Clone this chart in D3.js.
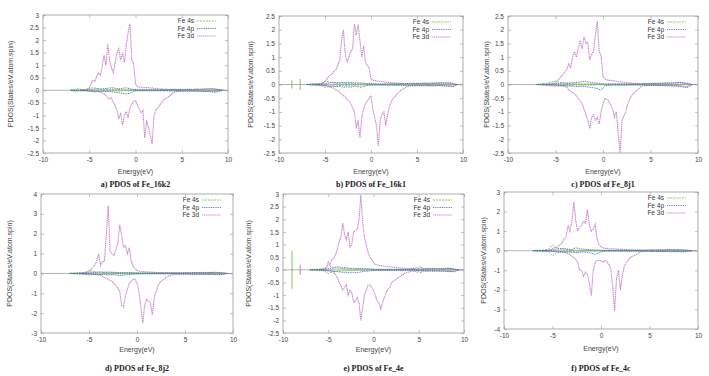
<!DOCTYPE html>
<html>
<head>
<meta charset="UTF-8">
<script src="https://cdn.jsdelivr.net/npm/d3@7"></script>
<style>
    body{margin:0;background:#fff;}
    svg{display:block;}
    .tick text{font-family:"Liberation Sans",Arial,sans-serif;font-size:6.5px;fill:#444;}
    .tick line{stroke:#999;stroke-width:0.6;}
    .frame{fill:none;stroke:#9a9a9a;stroke-width:0.8;}
    .lab{font-family:"Liberation Sans",Arial,sans-serif;font-size:7px;fill:#444;}
    .leg{font-family:"Liberation Sans",Arial,sans-serif;font-size:6.5px;fill:#333;}
    .ttl{font-family:"Liberation Serif","Times New Roman",serif;font-size:8px;font-weight:bold;fill:#222;}
    .curve{fill:none;}
</style>
</head>
<body>
<svg id="chart" width="709" height="376"></svg>
<script>
// energy grids (eV): 3d sampled from -6.0 by 0.2, 4s/4p from -7.0 by 0.4
var e3d = d3.range(80).map(function (i) { return +(-6 + i * 0.2).toFixed(1); });
var e4sp = d3.range(42).map(function (i) { return +(-7 + i * 0.4).toFixed(1); });
var xTicks = [-10, -5, 0, 5, 10];
var names = ["Fe 4s", "Fe 4p", "Fe 3d"];

// ---- a) Fe_16k2
var a_3d_up = [.01,.02,.01,.03,.05,.1,.25,.4,.35,.55, .7,.6,.95,1.4,1.0,1.85,1.2,.9,.7,1.1, 1.5,1.65,1.2,1.5,1.1,1.8,2.3,2.65,1.2,1.05, .25,.15,.12,.14,.1,.12,.1,.11,.08,.1, .07,.08,.06,.05,.06,.04,.05,.04,.03,.04, .03,.04,.03,.03,.04,.03,.04,.03,.04,.03, .04,.03,.04,.05,.03,.04,.05,.04,.05,.06, .06,.05,.07,.05,.04,.02,.01,0,0,0];
var a_3d_dn = [-.01,-.01,-.02,-.01,-.02,-.03,-.05,-.04,-.06,-.05, -.06,-.08,-.1,-.15,-.2,-.3,-.35,-.3,-.5,-.6, -.8,-1.15,-.9,-1.4,-1.0,-.85,-1.1,-.7,-.55,-.45, -.4,-.6,-.75,-.9,-.8,-1.9,-1.2,-1.5,-1.8,-2.15, -1.0,-.8,-.7,-.6,-.5,-.4,-.35,-.3,-.25,-.2, -.12,-.08,-.05,-.04,-.05,-.03,-.04,-.03,-.04,-.03, -.03,-.04,-.03,-.04,-.03,-.04,-.03,-.04,-.03,-.04, -.04,-.05,-.04,-.06,-.04,-.02,-.01,0,0,0];
var a_4s_up = [0,.03,.06,.02,.03,.07,.1,.08,.05,.04, .03,.03,.02,.03,.02,.02,.02,.02,.01,.01, .01,.01,.01,.01,.01,.01,.01,.01,.01,.01, .01,.01,.01,.01,.01,.01,.01,.01,.01,.01, .01,0];
var a_4s_dn = [0,-.04,-.03,-.02,-.02,-.04,-.06,-.05,-.04,-.03, -.03,-.03,-.02,-.03,-.02,-.02,-.02,-.01,-.01,-.01, -.01,-.01,-.01,-.01,-.01,-.01,-.01,-.01,-.01,-.01, -.01,-.01,-.01,-.01,-.01,-.01,-.01,-.01,-.01,-.01, -.01,0];
var a_4p_up = [0,0,.01,.01,.01,.02,.04,.05,.04,.06, .08,.1,.08,.06,.08,.1,.06,.03,.02,.02, .02,.02,.02,.02,.02,.02,.02,.02,.03,.03, .03,.03,.04,.03,.04,.04,.05,.05,.06,.04, .03,0];
var a_4p_dn = [0,0,-.01,-.01,-.01,-.02,-.03,-.03,-.04,-.04, -.05,-.06,-.08,-.1,-.12,-.15,-.12,-.04,-.02,-.02, -.02,-.02,-.02,-.02,-.02,-.02,-.02,-.03,-.03,-.03, -.03,-.03,-.04,-.03,-.04,-.04,-.05,-.05,-.06,-.08, -.05,0];

// ---- b) Fe_16k1
var b_3d_up = [.01,.01,.02,.02,.05,.12,.2,.3,.35,.4, .5,.55,.7,.9,1.6,2.0,1.1,.8,1.0,1.2, 1.3,2.2,1.8,2.2,1.6,1.0,1.4,.8,.7,.6, .2,.15,.15,.13,.12,.12,.1,.1,.08,.08, .07,.06,.06,.05,.05,.04,.04,.04,.03,.04, .03,.04,.03,.04,.03,.04,.03,.04,.03,.04, .04,.05,.04,.05,.04,.05,.04,.05,.06,.05, .06,.05,.04,.05,.03,.01,0,0,0,0];
var b_3d_dn = [-.01,-.01,-.02,-.02,-.03,-.04,-.05,-.08,-.1,-.12, -.15,-.2,-.22,-.3,-.35,-.4,-.45,-.55,-.6,-.7, -.85,-1.0,-1.6,-1.3,-1.95,-1.2,-.9,-.7,-.6,-.5, -.4,-.9,-1.2,-1.5,-2.25,-1.3,-1.1,-1.0,-1.5,-1.1, -.8,-.65,-.5,-.45,-.35,-.3,-.22,-.18,-.15,-.1, -.06,-.05,-.04,-.05,-.04,-.03,-.04,-.03,-.04,-.03, -.03,-.04,-.03,-.04,-.03,-.04,-.03,-.04,-.03,-.04, -.04,-.05,-.06,-.05,-.07,-.04,-.02,0,0,0];
var b_4s_up = [0,.02,.03,.03,.04,.12,.1,.06,.05,.04, .04,.03,.03,.03,.02,.02,.02,.02,.01,.01, .01,.01,.01,.01,.01,.01,.01,.01,.01,.01, .01,.01,.01,.01,.01,.01,.01,.01,.01,.01, .01,0];
var b_4s_dn = [0,-.02,-.03,-.03,-.04,-.1,-.08,-.06,-.05,-.04, -.03,-.03,-.03,-.02,-.02,-.02,-.02,-.01,-.01,-.01, -.01,-.01,-.01,-.01,-.01,-.01,-.01,-.01,-.01,-.01, -.01,-.01,-.01,-.01,-.01,-.01,-.01,-.01,-.01,-.01, -.01,0];
var b_4p_up = [0,0,.01,.01,.02,.03,.05,.08,.06,.07, .08,.06,.07,.06,.05,.06,.04,.03,.03,.02, .02,.02,.02,.03,.02,.03,.03,.03,.04,.04, .04,.04,.05,.04,.05,.05,.06,.05,.06,.06, .03,0];
var b_4p_dn = [0,0,-.01,-.01,-.02,-.03,-.05,-.06,-.08,-.06, -.1,-.08,-.1,-.06,-.08,-.1,-.05,-.03,-.02,-.02, -.02,-.02,-.03,-.02,-.03,-.03,-.03,-.04,-.04,-.04, -.04,-.04,-.05,-.04,-.05,-.05,-.04,-.05,-.06,-.06, -.08,0];
var b_core = [[-8.6, .15, -.15, 0], [-7.7, .2, -.2, 0]];

// ---- c) Fe_8j1
var c_3d_up = [.01,.01,.02,.03,.05,.06,.15,.2,.3,.35, .5,.55,.75,.6,1.0,1.2,1.0,1.35,1.6,1.3, 1.75,1.5,1.55,.9,1.1,1.2,1.8,2.3,1.2,1.05, .3,.2,.17,.15,.15,.14,.13,.12,.1,.1, .09,.08,.07,.06,.05,.05,.04,.04,.03,.03, .03,.03,.04,.03,.03,.04,.03,.04,.03,.04, .04,.03,.04,.05,.04,.05,.04,.05,.06,.05, .08,.06,.05,.04,.03,.01,0,0,0,0];
var c_3d_dn = [-.01,-.01,-.01,-.02,-.02,-.03,-.03,-.04,-.05,-.05, -.07,-.1,-.2,-.25,-.3,-.35,-.4,-.5,-.6,-.7, -.9,-1.1,-1.3,-1.6,-1.2,-1.1,-1.3,-1.2,-1.45,-1.0, -.7,-.5,-.55,-.6,-.75,-.9,-1.2,-1.0,-1.8,-2.5, -1.3,-1.15,-1.0,-.7,-.55,-.4,-.35,-.25,-.2,-.15, -.08,-.05,-.04,-.04,-.03,-.04,-.03,-.04,-.03,-.04, -.03,-.04,-.03,-.04,-.03,-.04,-.03,-.04,-.03,-.04, -.04,-.05,-.06,-.08,-.1,-.05,-.01,0,0,0];
var c_4s_up = [0,.02,.04,.05,.1,.12,.08,.06,.04,.03, .03,.02,.02,.02,.02,.02,.02,.01,.01,.01, .01,.01,.01,.01,.01,.01,.01,.01,.01,.01, .01,.01,.01,.01,.01,.01,.01,.01,.01,.01, .01,0];
var c_4s_dn = [0,-.02,-.03,-.04,-.05,-.06,-.05,-.04,-.03,-.03, -.02,-.02,-.02,-.02,-.02,-.02,-.01,-.01,-.01,-.01, -.01,-.01,-.01,-.01,-.01,-.01,-.01,-.01,-.01,-.01, -.01,-.01,-.01,-.01,-.01,-.01,-.01,-.01,-.01,-.01, -.01,0];
var c_4p_up = [0,0,.01,.01,.02,.03,.04,.05,.05,.06, .07,.08,.1,.12,.08,.06,.05,.03,.02,.02, .02,.02,.02,.02,.02,.02,.02,.02,.02,.03, .03,.04,.04,.05,.05,.06,.06,.07,.08,.06, .04,0];
var c_4p_dn = [0,0,-.01,-.01,-.02,-.02,-.03,-.04,-.05,-.06, -.07,-.08,-.06,-.08,-.1,-.12,-.15,-.2,-.05,-.03, -.02,-.02,-.02,-.02,-.02,-.02,-.02,-.02,-.02,-.03, -.03,-.03,-.04,-.04,-.05,-.05,-.06,-.06,-.08,-.1, -.1,0];

// ---- d) Fe_8j2
var d_3d_up = [.01,.01,.02,.03,.06,.1,.2,.3,.45,.6, 1.0,.4,.6,.6,1.9,3.4,1.1,1.0,.9,1.2, 1.5,2.45,1.9,1.3,1.4,1.0,1.3,.6,.35,.25, .15,.12,.1,.1,.08,.08,.07,.07,.06,.06, .05,.05,.04,.04,.04,.03,.03,.03,.03,.03, .03,.03,.03,.03,.03,.03,.03,.03,.03,.03, .03,.04,.03,.04,.03,.04,.03,.04,.05,.04, .05,.04,.05,.04,.03,.01,0,0,0,0];
var d_3d_dn = [-.01,-.01,-.01,-.02,-.02,-.03,-.03,-.04,-.05,-.06, -.08,-.1,-.15,-.2,-.25,-.3,-.35,-.4,-.5,-.6, -.75,-.9,-1.6,-1.7,-1.1,-.8,-.5,-.4,-.3,-.3, -.5,-.9,-1.7,-2.5,-1.6,-1.3,-1.4,-1.5,-2.1,-1.2, -.9,-.6,-.45,-.35,-.3,-.22,-.15,-.12,-.08,-.06, -.05,-.04,-.04,-.03,-.04,-.03,-.04,-.03,-.04,-.03, -.03,-.04,-.03,-.04,-.03,-.04,-.03,-.04,-.03,-.04, -.04,-.05,-.04,-.05,-.06,-.03,-.01,0,0,0];
var d_4s_up = [0,.02,.03,.04,.06,.15,.1,.06,.05,.04, .03,.03,.03,.02,.02,.02,.02,.02,.01,.01, .01,.01,.01,.01,.01,.01,.01,.01,.01,.01, .01,.01,.01,.01,.01,.01,.01,.01,.01,.01, .01,0];
var d_4s_dn = [0,-.02,-.03,-.03,-.05,-.08,-.06,-.05,-.04,-.03, -.03,-.03,-.02,-.02,-.02,-.02,-.02,-.01,-.01,-.01, -.01,-.01,-.01,-.01,-.01,-.01,-.01,-.01,-.01,-.01, -.01,-.01,-.01,-.01,-.01,-.01,-.01,-.01,-.01,-.01, -.01,0];
var d_4p_up = [0,0,.01,.01,.02,.03,.05,.06,.08,.06, .07,.06,.05,.04,.04,.05,.04,.03,.02,.02, .02,.02,.02,.02,.02,.02,.02,.02,.02,.02, .03,.03,.04,.04,.04,.05,.05,.05,.06,.04, .03,0];
var d_4p_dn = [0,0,-.01,-.01,-.02,-.02,-.03,-.05,-.06,-.05, -.08,-.06,-.08,-.1,-.08,-.06,-.05,-.03,-.02,-.02, -.02,-.02,-.02,-.02,-.02,-.02,-.02,-.02,-.02,-.02, -.03,-.03,-.04,-.04,-.04,-.05,-.05,-.05,-.06,-.06, -.04,0];

// ---- e) Fe_4e
var e_3d_up = [.01,.02,.02,.03,.06,.3,.2,.4,.45,.6, .8,1.1,1.3,1.85,1.4,1.2,1.5,.9,1.0,1.5, 1.55,1.6,2.0,2.95,1.9,1.3,1.0,.7,.5,.4, .3,.2,.2,.18,.16,.15,.14,.13,.12,.12, .1,.1,.09,.08,.08,.07,.07,.06,.06,.05, .06,.05,.06,.05,.1,.06,.12,.05,.06,.05, .05,.06,.05,.05,.04,.05,.04,.05,.05,.04, .05,.06,.05,.04,.03,.01,0,0,0,0];
var e_3d_dn = [-.01,-.01,-.02,-.02,-.03,-.04,-.05,-.07,-.1,-.2, -.3,-.5,-.6,-.8,-.7,-.6,-1.0,-.8,-.9,-1.3, -1.2,-1.1,-1.3,-2.0,-1.5,-1.0,-.8,-.6,-.6,-.7, -.8,-1.0,-1.25,-1.3,-1.55,-1.3,-1.1,-.9,-.75,-.7, -.5,-.45,-.4,-.35,-.3,-.25,-.2,-.15,-.12,-.1, -.08,-.05,-.06,-.05,-.1,-.05,-.12,-.05,-.06,-.05, -.05,-.04,-.05,-.04,-.05,-.04,-.05,-.04,-.05,-.04, -.05,-.06,-.05,-.07,-.05,-.02,-.01,0,0,0];
var e_4s_up = [0,.02,.03,.03,.05,.2,.1,.08,.06,.05, .04,.03,.03,.03,.02,.02,.02,.02,.01,.01, .01,.01,.01,.01,.01,.01,.01,.01,.01,.01, .01,.01,.01,.01,.01,.01,.01,.01,.01,.01, .01,0];
var e_4s_dn = [0,-.02,-.03,-.03,-.05,-.15,-.08,-.06,-.05,-.04, -.03,-.03,-.03,-.02,-.02,-.02,-.02,-.01,-.01,-.01, -.01,-.01,-.01,-.01,-.01,-.01,-.01,-.01,-.01,-.01, -.01,-.01,-.01,-.01,-.01,-.01,-.01,-.01,-.01,-.01, -.01,0];
var e_4p_up = [0,0,.01,.01,.02,.04,.05,.1,.12,.08, .08,.06,.06,.05,.05,.04,.04,.03,.02,.02, .02,.02,.02,.02,.02,.02,.02,.02,.02,.02, .03,.03,.04,.04,.05,.04,.05,.05,.06,.05, .03,0];
var e_4p_dn = [0,0,-.01,-.01,-.02,-.03,-.04,-.06,-.08,-.1, -.1,-.12,-.1,-.12,-.08,-.06,-.05,-.03,-.02,-.02, -.02,-.02,-.02,-.02,-.02,-.02,-.02,-.02,-.02,-.02, -.03,-.03,-.04,-.04,-.05,-.04,-.05,-.05,-.06,-.06, -.08,0];
var e_core = [[-9.0, .75, -.75, 0], [-8.1, .2, -.2, 2]];

// ---- f) Fe_4c
var f_3d_up = [.01,.01,.02,.03,.05,.1,.15,.18,.25,.3, .4,.6,.7,1.3,1.0,1.5,2.5,1.5,1.0,1.2, 1.3,1.5,1.4,2.1,1.3,1.0,1.1,1.35,.6,.3, .2,.15,.12,.12,.1,.1,.1,.09,.08,.08, .07,.07,.06,.06,.05,.05,.05,.04,.04,.04, .04,.04,.04,.04,.04,.04,.05,.04,.05,.04, .05,.04,.05,.04,.05,.06,.05,.06,.05,.05, .06,.05,.04,.03,.02,.01,0,0,0,0];
var f_3d_dn = [-.01,-.01,-.01,-.02,-.02,-.03,-.03,-.03,-.04,-.05, -.06,-.08,-.1,-.15,-.2,-.3,-.35,-.45,-.6,-1.0, -1.0,-1.3,-1.1,-1.2,-1.7,-2.3,-1.0,-.6,-.5,-.5, -.5,-.6,-.5,-.55,-.7,-.9,-1.8,-3.1,-1.4,-1.0, -2.0,-1.3,-.8,-.6,-.5,-.35,-.3,-.25,-.2,-.15, -.08,-.05,-.04,-.04,-.03,-.04,-.03,-.04,-.03,-.04, -.03,-.04,-.03,-.04,-.03,-.04,-.03,-.04,-.03,-.04, -.04,-.05,-.04,-.06,-.03,-.02,-.01,0,0,0];
var f_4s_up = [0,.02,.03,.04,.08,.3,.15,.1,.06,.04, .03,.03,.02,.02,.02,.02,.02,.01,.01,.01, .01,.01,.01,.01,.01,.01,.01,.01,.01,.01, .01,.01,.01,.01,.01,.01,.01,.01,.01,.01, .01,0];
var f_4s_dn = [0,-.02,-.03,-.04,-.06,-.25,-.1,-.06,-.05,-.04, -.03,-.03,-.02,-.02,-.02,-.02,-.02,-.01,-.01,-.01, -.01,-.01,-.01,-.01,-.01,-.01,-.01,-.01,-.01,-.01, -.01,-.01,-.01,-.01,-.01,-.01,-.01,-.01,-.01,-.01, -.01,0];
var f_4p_up = [0,0,.01,.01,.02,.04,.08,.1,.12,.08, .06,.15,.1,.08,.06,.05,.04,.03,.02,.02, .02,.02,.02,.02,.02,.02,.02,.02,.02,.02, .03,.03,.04,.04,.04,.05,.05,.04,.05,.04, .03,0];
var f_4p_dn = [0,0,-.01,-.01,-.02,-.03,-.05,-.06,-.08,-.06, -.08,-.1,-.08,-.06,-.1,-.12,-.2,-.1,-.03,-.02, -.02,-.02,-.02,-.02,-.02,-.02,-.02,-.02,-.02,-.02, -.03,-.03,-.04,-.04,-.04,-.05,-.05,-.04,-.05,-.05, -.03,0];

var titles = ["a) PDOS of Fe_16k2", "b) PDOS of Fe_16k1", "c) PDOS of Fe_8j1",
              "d) PDOS of Fe_8j2", "e) PDOS of Fe_4e", "f) PDOS of Fe_4c"];
var yDomains = [[-2.5, 3], [-2.5, 2.5], [-2.5, 2.5], [-3, 4], [-2.5, 3], [-4, 3]];
var yTicks = [
    [-2.5,-2,-1.5,-1,-0.5,0,0.5,1,1.5,2,2.5,3],
    [-2.5,-2,-1.5,-1,-0.5,0,0.5,1,1.5,2,2.5],
    [-2.5,-2,-1.5,-1,-0.5,0,0.5,1,1.5,2,2.5],
    [-3,-2,-1,0,1,2,3,4],
    [-2.5,-2,-1.5,-1,-0.5,0,0.5,1,1.5,2,2.5,3],
    [-4,-3,-2,-1,0,1,2,3]
];
var pdos = [
    [[a_4s_up, a_4s_dn], [a_4p_up, a_4p_dn], [a_3d_up, a_3d_dn], []],
    [[b_4s_up, b_4s_dn], [b_4p_up, b_4p_dn], [b_3d_up, b_3d_dn], b_core],
    [[c_4s_up, c_4s_dn], [c_4p_up, c_4p_dn], [c_3d_up, c_3d_dn], []],
    [[d_4s_up, d_4s_dn], [d_4p_up, d_4p_dn], [d_3d_up, d_3d_dn], []],
    [[e_4s_up, e_4s_dn], [e_4p_up, e_4p_dn], [e_3d_up, e_3d_dn], e_core],
    [[f_4s_up, f_4s_dn], [f_4p_up, f_4p_dn], [f_3d_up, f_3d_dn], []]
];

// layout: plot box [left, right, top, bottom], y-label x, x-label y, title y
var layout = [
    {box: [43, 228, 15, 153], ylx: 11, xly: 172, ty: 184},
    {box: [279, 463, 16, 153], ylx: 251, xly: 172, ty: 184},
    {box: [508, 698, 16, 153], ylx: 487, xly: 172, ty: 184},
    {box: [41, 233, 194, 333], ylx: 10, xly: 350, ty: 368},
    {box: [283, 464, 194, 333], ylx: 249, xly: 350, ty: 368},
    {box: [504, 698, 192, 329], ylx: 484, xly: 349, ty: 368}
];
var styles = [
    {color: "#6fbf45", dash: "2,1", width: 0.9},
    {color: "#3f5fc8", dash: "1,0.8", width: 0.9},
    {color: "#c070c4", dash: "1.3,0.6", width: 1.1}
];
var grids = [e4sp, e4sp, e3d];

var svg = d3.select("#chart");
var fmt = function (d) { return String(d); };

for (var k = 0; k < 6; k++) drawPanel(k);

function drawPanel(k) {
    var L = layout[k], b = L.box;
    var x = d3.scaleLinear().domain([-10, 10]).range([b[0], b[1]]);
    var y = d3.scaleLinear().domain(yDomains[k]).range([b[3], b[2]]);
    var g = svg.append("g");

    // zero line
    g.append("line")
        .attr("x1", x(-10)).attr("x2", x(10))
        .attr("y1", y(0)).attr("y2", y(0))
        .attr("stroke", "#a0a0a0").attr("stroke-width", 0.8);

    var line = d3.line()
        .x(function (d) { return x(d[0]); })
        .y(function (d) { return y(d[1]); });

    // 3d first, then 4s and 4p on top
    [2, 0, 1].forEach(function (s) {
        var st = styles[s];
        pdos[k][s].forEach(function (vals) {
            var pts = vals.map(function (v, i) { return [grids[s][i], v]; });
            g.append("path")
                .attr("class", "curve")
                .attr("d", line(pts))
                .attr("stroke", st.color)
                .attr("stroke-width", st.width)
                .attr("stroke-dasharray", st.dash)
                .attr("stroke-opacity", s === 2 ? 0.85 : 1);
        });
    });

    // semicore spikes
    g.selectAll(".core")
        .data(pdos[k][3])
        .enter().append("line")
        .attr("class", "core")
        .attr("x1", function (d) { return x(d[0]); })
        .attr("x2", function (d) { return x(d[0]); })
        .attr("y1", function (d) { return y(d[1]); })
        .attr("y2", function (d) { return y(d[2]); })
        .attr("stroke", function (d) { return styles[d[3]].color; })
        .attr("stroke-width", 0.9);

    // axes with inward ticks, mirrored
    var axL = g.append("g").attr("transform", "translate(" + b[0] + ",0)")
        .call(d3.axisLeft(y).tickValues(yTicks[k]).tickSizeInner(-3).tickSizeOuter(0).tickPadding(4).tickFormat(fmt));
    var axR = g.append("g").attr("transform", "translate(" + b[1] + ",0)")
        .call(d3.axisRight(y).tickValues(yTicks[k]).tickSizeInner(-3).tickSizeOuter(0).tickFormat(""));
    var axB = g.append("g").attr("transform", "translate(0," + b[3] + ")")
        .call(d3.axisBottom(x).tickValues(xTicks).tickSizeInner(-3).tickSizeOuter(0).tickPadding(4).tickFormat(fmt));
    var axT = g.append("g").attr("transform", "translate(0," + b[2] + ")")
        .call(d3.axisTop(x).tickValues(xTicks).tickSizeInner(-3).tickSizeOuter(0).tickFormat(""));
    [axL, axR, axB, axT].forEach(function (a) { a.select(".domain").remove(); });

    g.append("rect").attr("class", "frame")
        .attr("x", b[0]).attr("y", b[2])
        .attr("width", b[1] - b[0]).attr("height", b[3] - b[2]);

    // legend
    var lg = g.append("g");
    names.forEach(function (n, i) {
        var ly = b[2] + 6 + i * 7.5;
        lg.append("text").attr("class", "leg")
            .attr("x", b[1] - 34).attr("y", ly).attr("dy", "0.35em")
            .attr("text-anchor", "end").text(n);
        lg.append("line")
            .attr("x1", b[1] - 31).attr("x2", b[1] - 12)
            .attr("y1", ly).attr("y2", ly)
            .attr("stroke", styles[i].color)
            .attr("stroke-width", 0.8)
            .attr("stroke-dasharray", styles[i].dash);
    });

    // labels
    g.append("text").attr("class", "lab")
        .attr("transform", "translate(" + L.ylx + "," + ((b[2] + b[3]) / 2) + ") rotate(-90)")
        .attr("text-anchor", "middle").attr("dy", "0.35em")
        .text("PDOS(States/eV.atom.spin)");
    g.append("text").attr("class", "lab")
        .attr("x", (b[0] + b[1]) / 2).attr("y", L.xly).attr("dy", "0.35em")
        .attr("text-anchor", "middle").text("Energy(eV)");
    g.append("text").attr("class", "ttl")
        .attr("x", (b[0] + b[1]) / 2).attr("y", L.ty).attr("dy", "0.35em")
        .attr("text-anchor", "middle").text(titles[k]);
}
</script>
</body>
</html>
